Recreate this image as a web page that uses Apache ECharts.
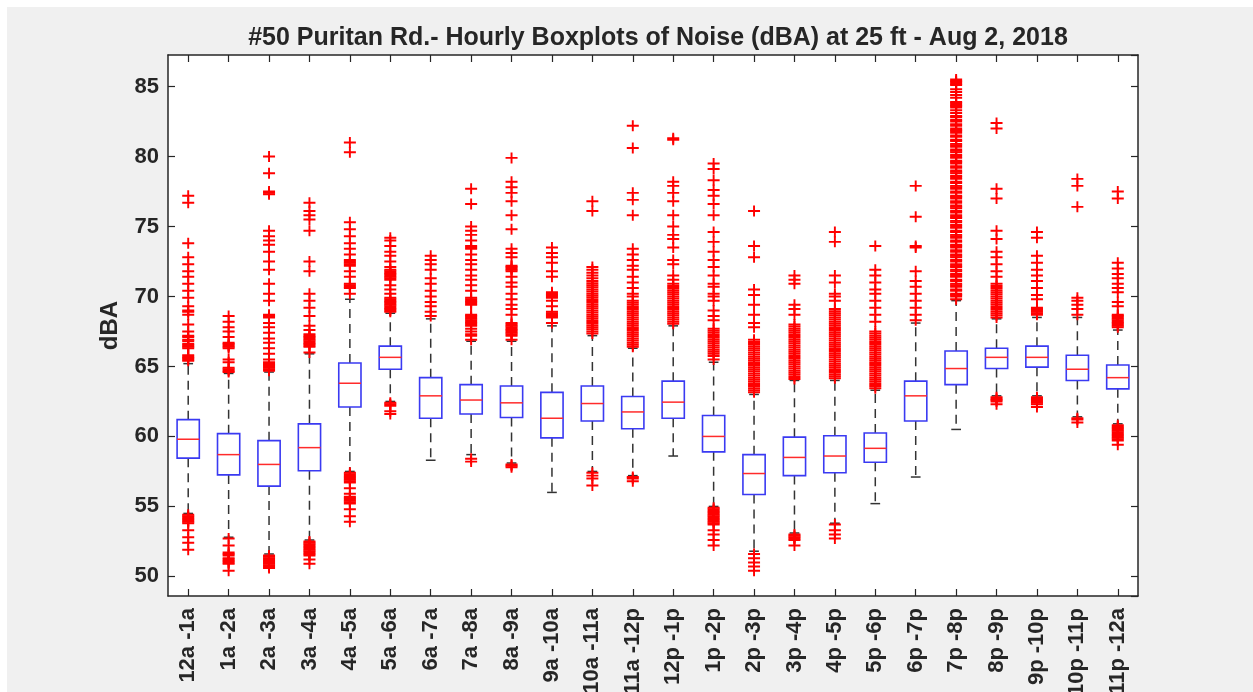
<!DOCTYPE html>
<html>
<head>
<meta charset="utf-8">
<script src="https://cdn.jsdelivr.net/npm/echarts/dist/echarts.min.js"></script>
<style>
  body { margin: 0; background: #fff; }
  #bg { position: absolute; left: 7px; top: 7px; right: 0; bottom: 0; background: #f0f0f0; }
  #main { position: absolute; left: 0; top: 0; width: 1253px; height: 692px; }
</style>
</head>
<body>
<div id="bg"></div>
<div id="main"></div>
<script>
const hours = ['12a -1a', '1a -2a', '2a -3a', '3a -4a', '4a -5a', '5a -6a', '6a -7a', '7a -8a',
    '8a -9a', '9a -10a', '10a -11a', '11a -12p', '12p -1p', '1p -2p', '2p -3p', '3p -4p',
    '4p -5p', '5p -6p', '6p -7p', '7p -8p', '8p -9p', '9p -10p', '10p -11p', '11p -12a'];

// box stats (dBA)
const whiskerLow = [54.5, 52.8, 51.6, 52.6, 57.5, 62.5, 58.3, 58.7, 58.1, 56.0, 57.5, 57.2,
    58.6, 55.0, 51.8, 53.1, 53.8, 55.2, 57.1, 60.5, 62.9, 62.9, 61.4, 60.9];
const q1 = [58.45, 57.25, 56.45, 57.55, 62.1, 64.8, 61.3, 61.6, 61.35, 59.9, 61.1, 60.55,
    61.3, 58.9, 55.85, 57.2, 57.4, 58.15, 61.1, 63.7, 64.85, 64.95, 64.0, 63.4];
const median = [59.8, 58.7, 58.0, 59.2, 63.8, 65.65, 62.9, 62.6, 62.4, 61.3, 62.35, 61.75,
    62.45, 60.0, 57.35, 58.5, 58.6, 59.15, 62.9, 64.85, 65.65, 65.65, 64.8, 64.2];
const q3 = [61.2, 60.2, 59.7, 60.9, 65.25, 66.45, 64.2, 63.7, 63.6, 63.15, 63.6, 62.85,
    63.95, 61.5, 58.7, 59.95, 60.05, 60.25, 63.95, 66.1, 66.3, 66.45, 65.8, 65.1];
const whiskerHigh = [65.2, 64.5, 64.6, 65.9, 69.8, 68.8, 68.4, 66.8, 66.8, 67.9, 67.2, 66.3,
    67.9, 65.3, 63.0, 64.0, 64.0, 63.3, 68.1, 69.7, 68.4, 68.5, 68.5, 67.6];

// outliers per hour
const outliers = [
    [77.2, 76.7, 73.8, 72.8, 72.3, 71.8, 71.4, 70.9, 70.4, 69.9, 69.3, 69.0, 68.9, 68.7, 68.0, 67.5,
     67.2, 67.1, 66.9, 66.8, 66.6, 66.5, 66.4, 66.3, 65.8, 65.7, 65.6, 65.5, 65.4,
     54.4, 54.3, 54.2, 54.1, 54.0, 53.9, 53.8, 53.3, 52.8, 52.4, 51.9],
    [68.6, 68.2, 67.8, 67.5, 67.1, 66.7, 66.6, 66.5, 66.4, 66.3, 65.5, 65.3, 64.9, 64.8, 64.7, 64.6,
     52.7, 52.2, 51.7, 51.6, 51.5, 51.3, 51.2, 51.1, 51.0, 50.9, 50.4],
    [80.0, 78.8, 77.5, 77.4, 77.3, 74.7, 74.3, 74.0, 73.7, 73.2, 72.5, 71.9, 70.9, 70.2, 69.7,
     68.7, 68.6, 68.5, 68.1, 67.8, 67.4, 67.0, 66.7, 66.3, 65.9, 65.5, 65.3, 65.2, 65.1, 65.0,
     64.9, 64.8, 64.7, 51.5, 51.4, 51.3, 51.2, 51.1, 51.0, 50.9, 50.8, 50.7, 50.6],
    [76.7, 76.1, 75.8, 75.5, 74.7, 72.5, 71.8, 70.2, 69.7, 69.2, 68.6, 67.9, 67.6, 67.3, 67.2,
     67.1, 67.0, 66.9, 66.8, 66.7, 66.6, 66.5, 66.4, 66.0,
     52.5, 52.4, 52.3, 52.2, 52.1, 52.0, 51.9, 51.8, 51.7, 51.6, 51.5, 51.2, 50.9],
    [81.0, 80.3, 75.3, 74.8, 74.3, 73.8, 73.4, 73.0, 72.6, 72.5, 72.4, 72.3, 72.2, 71.8, 71.4,
     70.9, 70.8, 70.7, 70.6, 70.2,
     57.4, 57.3, 57.2, 57.1, 57.0, 56.9, 56.8, 56.7, 56.3, 55.9, 55.7, 55.6, 55.5, 55.4, 55.3,
     55.2, 54.8, 54.3, 53.9],
    [74.2, 74.0, 73.6, 73.2, 72.9, 72.5, 72.1, 71.9, 71.8, 71.7, 71.6, 71.5, 71.4, 71.3, 71.2,
     70.8, 70.5, 70.2, 69.9, 69.8, 69.7, 69.6, 69.5, 69.4, 69.3, 69.2, 69.1, 69.0, 68.9,
     62.4, 62.3, 62.2, 61.8, 61.6],
    [72.9, 72.6, 72.3, 71.9, 71.3, 70.9, 70.4, 70.0, 69.6, 69.3, 68.9, 68.6],
    [77.7, 76.6, 75.0, 74.7, 74.4, 74.0, 73.6, 73.5, 73.4, 73.0, 72.6, 72.3, 71.9, 71.5, 71.2,
     70.8, 70.4, 69.9, 69.8, 69.7, 69.6, 69.5, 69.4, 68.7, 68.6, 68.5, 68.4, 68.3, 68.2, 68.1,
     68.0, 67.9, 67.7, 67.5, 67.3, 67.2, 66.9, 58.4, 58.2],
    [79.9, 78.2, 77.8, 77.4, 76.8, 75.8, 74.8, 73.4, 73.1, 72.8, 72.2, 72.1, 72.0, 71.9, 71.8,
     71.4, 71.0, 70.7, 70.2, 69.8, 69.4, 69.1, 68.7, 68.1, 68.0, 67.9, 67.8, 67.7, 67.6, 67.5,
     67.4, 67.3, 67.2, 66.9, 58.0, 57.9, 57.8],
    [73.5, 73.1, 72.8, 72.4, 71.8, 71.4, 70.3, 70.2, 70.1, 70.0, 69.9, 69.7, 69.3, 68.9, 68.8,
     68.7, 68.6, 68.5, 68.1],
    [76.8, 76.1, 72.1, 71.9, 71.7, 71.5, 71.3, 71.1, 70.95, 70.8, 70.65, 70.5, 70.35, 70.2,
     70.05, 69.9, 69.75, 69.6, 69.45, 69.3, 69.15, 69.0, 68.85, 68.7, 68.55, 68.4, 68.25, 68.1,
     67.95, 67.8, 67.65, 67.5, 67.35, 57.4, 57.2, 57.0, 56.5],
    [82.2, 80.6, 77.4, 76.9, 75.8, 73.4, 73.0, 72.6, 72.2, 71.9, 71.4, 71.0, 70.6, 70.2, 70.0,
     69.7, 69.55, 69.4, 69.25, 69.1, 68.95, 68.8, 68.65, 68.5, 68.35, 68.2, 68.05, 67.9, 67.75,
     67.6, 67.45, 67.3, 67.15, 67.0, 66.85, 66.7, 66.55, 66.4, 57.1, 57.0, 56.8],
    [81.3, 81.2, 78.2, 77.9, 77.4, 76.8, 75.8, 75.0, 74.4, 74.1, 73.5, 72.6, 72.3, 71.5, 71.2,
     70.9, 70.75, 70.6, 70.45, 70.3, 70.15, 70.0, 69.85, 69.7, 69.55, 69.4, 69.25, 69.1, 68.95,
     68.8, 68.65, 68.5, 68.35, 68.2, 68.05],
    [79.5, 79.1, 78.3, 77.6, 77.2, 76.6, 75.8, 74.6, 73.9, 73.2, 72.6, 72.1, 71.5, 70.9, 70.7,
     70.2, 70.0, 69.7, 69.0, 68.6, 68.3, 67.7, 67.55, 67.4, 67.25, 67.1, 66.95, 66.8, 66.65,
     66.5, 66.35, 66.2, 66.05, 65.9, 65.75, 65.5,
     54.9, 54.8, 54.7, 54.6, 54.5, 54.4, 54.3, 54.2, 54.1, 54.0, 53.9, 53.8, 53.7, 53.3, 53.0,
     52.6, 52.2],
    [76.1, 73.6, 72.8, 70.5, 70.1, 69.4, 68.7, 68.1, 67.8, 66.9, 66.75, 66.6, 66.45, 66.3, 66.15,
     66.0, 65.85, 65.7, 65.55, 65.4, 65.25, 65.1, 64.95, 64.8, 64.65, 64.5, 64.35, 64.2, 64.05,
     63.9, 63.75, 63.6, 63.45, 63.3, 63.15, 51.6, 51.3, 51.0, 50.7, 50.4],
    [71.5, 71.2, 70.9, 69.4, 69.1, 68.7, 68.0, 67.85, 67.7, 67.55, 67.4, 67.25, 67.1, 66.95,
     66.8, 66.65, 66.5, 66.35, 66.2, 66.05, 65.9, 65.75, 65.6, 65.45, 65.3, 65.15, 65.0, 64.85,
     64.7, 64.55, 64.4, 64.25, 64.1, 53.0, 52.9, 52.8, 52.7, 52.6, 52.2],
    [74.6, 73.9, 71.5, 71.0, 70.2, 70.0, 69.7, 69.1, 68.95, 68.8, 68.65, 68.5, 68.35, 68.2,
     68.05, 67.9, 67.75, 67.6, 67.45, 67.3, 67.15, 67.0, 66.85, 66.7, 66.55, 66.4, 66.25, 66.1,
     65.95, 65.8, 65.65, 65.5, 65.35, 65.2, 65.05, 64.9, 64.75, 64.6, 64.45, 64.3, 64.15,
     53.7, 53.3, 53.0, 52.7],
    [73.6, 71.9, 71.5, 71.0, 70.5, 70.2, 69.7, 69.2, 68.7, 68.2, 67.5, 67.35, 67.2, 67.05, 66.9,
     66.75, 66.6, 66.45, 66.3, 66.15, 66.0, 65.85, 65.7, 65.55, 65.4, 65.25, 65.1, 64.95, 64.8,
     64.65, 64.5, 64.35, 64.2, 64.05, 63.9, 63.75, 63.6, 63.45],
    [77.9, 75.7, 73.6, 73.5, 71.8, 71.1, 70.7, 70.2, 69.7, 69.2, 68.7, 68.3],
    [85.5, 85.4, 85.3, 85.2, 85.1, 84.8, 84.6, 84.4, 84.2, 83.9, 83.8, 83.7, 83.6, 83.5, 83.3,
     83.1, 82.9, 82.8, 82.6, 82.5, 82.3, 82.2, 82.0, 81.9, 81.8, 81.7, 81.5, 81.4, 81.2, 81.1,
     80.9, 80.8, 80.7, 80.5, 80.4, 80.3, 80.1, 80.0, 79.9, 79.7, 79.6, 79.5, 79.3, 79.2, 79.0,
     78.9, 78.8, 78.6, 78.5, 78.4, 78.2, 78.1, 77.9, 77.8, 77.7, 77.5, 77.4, 77.2, 77.1, 77.0,
     76.8, 76.7, 76.5, 76.4, 76.3, 76.1, 76.0, 75.8, 75.7, 75.6, 75.4, 75.3, 75.1, 75.0, 74.9,
     74.7, 74.6, 74.4, 74.3, 74.2, 74.0, 73.9, 73.7, 73.6, 73.5, 73.3, 73.2, 73.0, 72.9, 72.8,
     72.6, 72.5, 72.3, 72.2, 72.1, 71.9, 71.8, 71.6, 71.5, 71.4, 71.2, 71.1, 70.9, 70.8, 70.7,
     70.5, 70.4, 70.2, 70.1, 70.0, 69.8],
    [82.4, 82.0, 77.7, 77.0, 74.7, 74.1, 73.2, 72.8, 72.3, 71.8, 71.4, 70.9, 70.75, 70.6, 70.45,
     70.3, 70.15, 70.0, 69.85, 69.7, 69.55, 69.4, 69.25, 69.1, 68.95, 68.8, 68.65, 68.5,
     62.8, 62.7, 62.6, 62.5, 62.3],
    [74.6, 74.2, 72.9, 72.4, 71.9, 71.5, 71.1, 70.6, 70.1, 69.8, 69.2, 69.1, 69.0, 68.9, 68.8,
     68.7, 62.8, 62.7, 62.6, 62.5, 62.4, 62.3, 62.1],
    [78.4, 77.9, 76.4, 69.9, 69.7, 69.4, 69.1, 68.7, 61.3, 61.2, 61.0],
    [77.5, 77.0, 72.4, 72.0, 71.6, 71.3, 70.9, 70.6, 70.3, 69.6, 69.3, 68.7, 68.6, 68.5, 68.4,
     68.3, 68.2, 68.1, 68.0, 67.9, 67.8,
     60.8, 60.7, 60.6, 60.5, 60.4, 60.3, 60.2, 60.1, 60.0, 59.9, 59.8, 59.7, 59.4]
];

const textColor = '#262626';
const font = 'Liberation Sans';

const boxData = hours.map((h, i) => [i, whiskerLow[i], q1[i], median[i], q3[i], whiskerHigh[i]]);
const outlierData = [];
outliers.forEach((list, i) => {
    list.forEach(v => outlierData.push([i, v]));
});

const dashed = { stroke: '#333', lineWidth: 1.5, lineDash: [9, 6] };

function renderBox(params, api) {
    const idx = api.value(0);
    const pLow = api.coord([idx, api.value(1)]);
    const pQ1 = api.coord([idx, api.value(2)]);
    const pMed = api.coord([idx, api.value(3)]);
    const pQ3 = api.coord([idx, api.value(4)]);
    const pHigh = api.coord([idx, api.value(5)]);
    const band = api.size([1, 0])[0];
    const half = band * 0.275;
    const cap = band * 0.12;
    const x = pMed[0];
    return {
        type: 'group',
        children: [
            { type: 'line', shape: { x1: x, y1: pQ3[1], x2: x, y2: pHigh[1] }, style: dashed },
            { type: 'line', shape: { x1: x, y1: pQ1[1], x2: x, y2: pLow[1] }, style: dashed },
            { type: 'line', shape: { x1: x - cap, y1: pHigh[1], x2: x + cap, y2: pHigh[1] },
              style: { stroke: '#333', lineWidth: 1.5 } },
            { type: 'line', shape: { x1: x - cap, y1: pLow[1], x2: x + cap, y2: pLow[1] },
              style: { stroke: '#333', lineWidth: 1.5 } },
            { type: 'rect', shape: { x: x - half, y: pQ3[1], width: half * 2, height: pQ1[1] - pQ3[1] },
              style: { fill: '#fff', stroke: '#3a3af2', lineWidth: 1.6 } },
            { type: 'line', shape: { x1: x - half, y1: pMed[1], x2: x + half, y2: pMed[1] },
              style: { stroke: '#ff2b2b', lineWidth: 1.5 } }
        ]
    };
}

const frameLine = { show: true, lineStyle: { color: textColor, width: 1.5 } };
const frameTick = { show: true, inside: true, length: 7, lineStyle: { color: textColor, width: 1.2 } };

const chart = echarts.init(document.getElementById('main'));

let option = {
    backgroundColor: 'transparent',
    animation: false,
    title: {
        text: '#50 Puritan Rd.- Hourly Boxplots of Noise (dBA) at 25 ft - Aug 2, 2018',
        left: 653,
        textAlign: 'center',
        top: 21,
        textStyle: { fontFamily: font, fontSize: 25, fontWeight: 'bold', color: textColor }
    },
    grid: {
        left: 168, right: 115, top: 55, bottom: 96,
        containLabel: false,
        outerBoundsMode: 'none',
        show: true, backgroundColor: '#fff', borderWidth: 0
    },
    xAxis: [{
        type: 'category',
        position: 'bottom',
        data: hours,
        axisLine: frameLine,
        axisTick: { ...frameTick, alignWithLabel: true, interval: 0 },
        axisLabel: {
            rotate: 90, interval: 0, margin: 12,
            fontFamily: font, fontSize: 22, fontWeight: 'bold', color: textColor
        },
        splitLine: { show: false }
    }, {
        type: 'category',
        position: 'top',
        data: hours,
        axisLine: frameLine,
        axisTick: { ...frameTick, alignWithLabel: true, interval: 0 },
        axisLabel: { show: false },
        splitLine: { show: false }
    }],
    yAxis: [{
        type: 'value',
        position: 'left',
        min: 48.6,
        max: 87.25,
        splitNumber: 8,
        name: 'dBA',
        nameLocation: 'middle',
        nameGap: 46,
        nameTextStyle: { fontFamily: font, fontSize: 24, fontWeight: 'bold', color: textColor },
        axisLine: frameLine,
        axisTick: frameTick,
        axisLabel: {
            showMinLabel: false, showMaxLabel: false, margin: 9,
            fontFamily: font, fontSize: 22, fontWeight: 'bold', color: textColor,
            formatter: v => (v % 5 === 0 ? String(v) : '')
        },
        splitLine: { show: false }
    }, {
        type: 'value',
        position: 'right',
        min: 48.6,
        max: 87.25,
        splitNumber: 8,
        axisLine: frameLine,
        axisTick: frameTick,
        axisLabel: { show: false },
        splitLine: { show: false }
    }],
    series: [{
        type: 'custom',
        xAxisIndex: 0,
        yAxisIndex: 0,
        renderItem: renderBox,
        encode: { x: 0, y: [1, 2, 3, 4, 5] },
        data: boxData,
        z: 2
    }, {
        type: 'scatter',
        xAxisIndex: 0,
        yAxisIndex: 0,
        symbol: 'path://M0,4.1H10V5.9H0Z M4.2,0H5.8V10H4.2Z',
        symbolSize: [12, 11],
        itemStyle: { color: '#ff0000', opacity: 1 },
        data: outlierData,
        z: 3
    }]
};

chart.setOption(option);
</script>
</body>
</html>
